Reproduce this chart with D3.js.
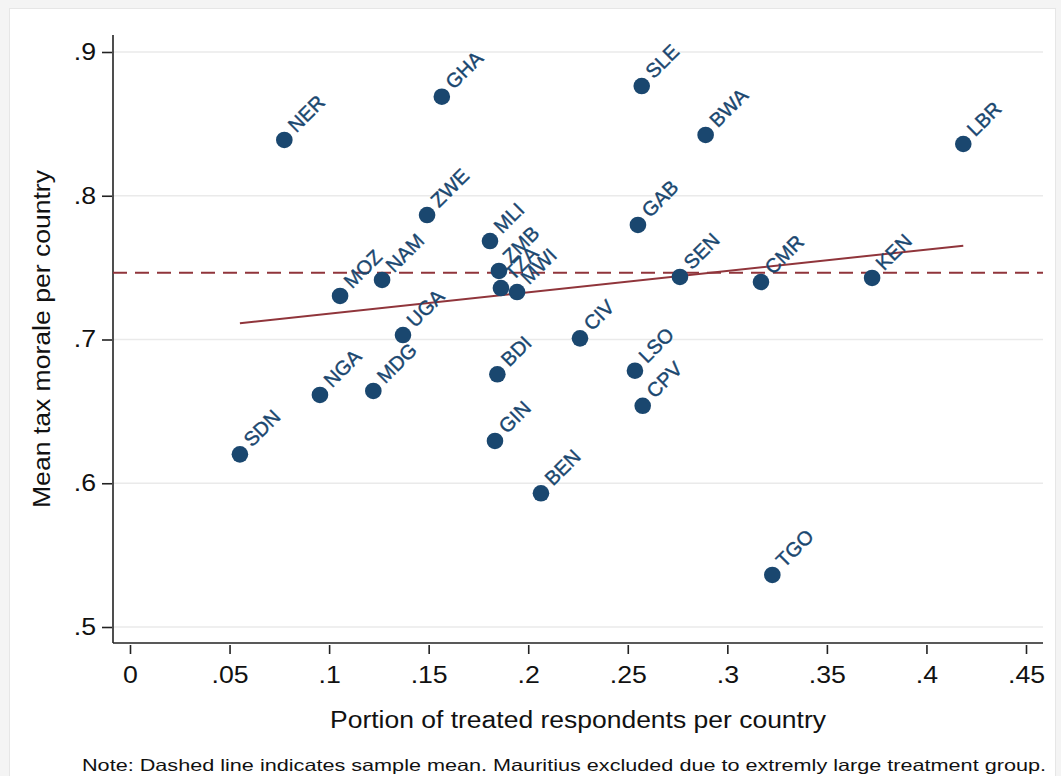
<!DOCTYPE html>
<html>
<head>
<meta charset="utf-8">
<script src="https://d3js.org/d3.v7.min.js"></script>
<style>
  body { margin: 0; background: #f4f4f4; }
  svg { display: block; font-family: "Liberation Sans", Arial, sans-serif; }
</style>
</head>
<body>
<div id="chart"></div>
<script>
// country codes, treated share and mean tax morale
const countries = ['NER', 'GHA', 'SLE', 'BWA', 'LBR', 'ZWE', 'MLI', 'GAB', 'ZMB', 'TZA', 'MWI', 'MOZ', 'NAM',
    'UGA', 'SEN', 'CMR', 'KEN', 'CIV', 'NGA', 'MDG', 'BDI', 'LSO', 'CPV', 'GIN', 'SDN', 'BEN', 'TGO'];
const treatedShare = [0.0775, 0.1566, 0.2570, 0.2891, 0.4185, 0.1492, 0.1808, 0.2551, 0.1853, 0.1863, 0.1944, 0.1055, 0.1266,
    0.1371, 0.2762, 0.3169, 0.3727, 0.2260, 0.0954, 0.1222, 0.1845, 0.2536, 0.2575, 0.1833, 0.0552, 0.2064, 0.3226];
const taxMorale = [0.8388, 0.8689, 0.8763, 0.8423, 0.8360, 0.7866, 0.7685, 0.7797, 0.7477, 0.7358, 0.7330, 0.7303, 0.7414,
    0.7031, 0.7435, 0.7400, 0.7428, 0.7008, 0.6614, 0.6642, 0.6758, 0.6783, 0.6539, 0.6294, 0.6201, 0.5930, 0.5362];

// linear fit end points and sample mean
const fitX = [0.0552, 0.4185];
const fitY = [0.7113, 0.7653];
const sampleMean = 0.7465;

const xTicks = [0, 0.05, 0.1, 0.15, 0.2, 0.25, 0.3, 0.35, 0.4, 0.45];
const xTickLabels = ['0', '.05', '.1', '.15', '.2', '.25', '.3', '.35', '.4', '.45'];
const yTicks = [0.5, 0.6, 0.7, 0.8, 0.9];
const yTickLabels = ['.5', '.6', '.7', '.8', '.9'];

const W = 1061, H = 776;
const navy = '#1a476f', maroon = '#90353b';
const stretch = 1.16; // picture text is wider than tall

const svg = d3.select('#chart').append('svg')
    .attr('width', W)
    .attr('height', H);

// white page
svg.append('rect')
    .attr('x', 9.5).attr('y', 8.5)
    .attr('width', 1046).attr('height', 780)
    .attr('fill', '#fff')
    .attr('stroke', '#e6e6e6');

const x = d3.scaleLinear().domain([0, 0.45]).range([130, 1026]);
const y = d3.scaleLinear().domain([0.5, 0.9]).range([627, 52]);

const plotLeft = 113, plotRight = 1043, plotTop = 35, plotBottom = 643;

// grid lines
svg.append('g')
    .selectAll('line')
    .data(yTicks)
    .enter().append('line')
    .attr('x1', plotLeft).attr('x2', plotRight)
    .attr('y1', d => y(d)).attr('y2', d => y(d))
    .attr('stroke', '#eaeaea')
    .attr('stroke-width', 1.5);

// axes
const xAxis = svg.append('g')
    .attr('transform', `translate(0,${plotBottom + 2})`)
    .call(d3.axisBottom(x).tickValues(xTicks).tickSize(9).tickPadding(13)
        .tickFormat((d, i) => xTickLabels[i]));
const yAxis = svg.append('g')
    .attr('transform', `translate(${plotLeft - 1},0)`)
    .call(d3.axisLeft(y).tickValues(yTicks).tickSize(10).tickPadding(6)
        .tickFormat((d, i) => yTickLabels[i]));

[xAxis, yAxis].forEach(ax => {
    ax.select('.domain').remove();
    ax.selectAll('.tick line').attr('stroke', '#222').attr('stroke-width', 1.6);
    ax.selectAll('.tick text')
        .attr('fill', '#111')
        .style('font-family', '"Liberation Sans", Arial, sans-serif')
        .style('font-size', '23px');
});
xAxis.selectAll('.tick text').attr('transform', `scale(${stretch},1)`);
yAxis.selectAll('.tick text').attr('x', -16 / stretch).attr('transform', `scale(${stretch},1)`);

svg.append('line')
    .attr('x1', plotLeft).attr('x2', plotLeft)
    .attr('y1', plotTop).attr('y2', plotBottom)
    .attr('stroke', '#222').attr('stroke-width', 1.6);
svg.append('line')
    .attr('x1', plotLeft).attr('x2', plotRight)
    .attr('y1', plotBottom).attr('y2', plotBottom)
    .attr('stroke', '#222').attr('stroke-width', 1.6);

// sample mean (dashed) and fit line
svg.append('line')
    .attr('x1', plotLeft).attr('x2', plotRight)
    .attr('y1', y(sampleMean)).attr('y2', y(sampleMean))
    .attr('stroke', maroon)
    .attr('stroke-width', 2)
    .attr('stroke-dasharray', '14,8');

svg.append('line')
    .attr('x1', x(fitX[0])).attr('x2', x(fitX[1]))
    .attr('y1', y(fitY[0])).attr('y2', y(fitY[1]))
    .attr('stroke', maroon)
    .attr('stroke-width', 2);

// points with labels
const pts = countries.map((c, i) => ({ code: c, share: treatedShare[i], morale: taxMorale[i] }));

svg.append('g')
    .selectAll('circle')
    .data(pts)
    .enter().append('circle')
    .attr('cx', d => x(d.share))
    .attr('cy', d => y(d.morale))
    .attr('r', 8.3)
    .attr('fill', navy);

svg.append('g')
    .selectAll('text')
    .data(pts)
    .enter().append('text')
    .attr('transform', d => `translate(${x(d.share) + 12},${y(d.morale) - 6.5}) rotate(-45)`)
    .attr('fill', navy)
    .attr('stroke', navy)
    .attr('stroke-width', 0.4)
    .style('font-size', '20px')
    .text(d => d.code);

// titles
svg.append('text')
    .attr('transform', `translate(${(plotLeft + plotRight) / 2},728)`)
    .attr('text-anchor', 'middle')
    .attr('textLength', 496)
    .attr('lengthAdjust', 'spacingAndGlyphs')
    .attr('fill', '#111')
    .style('font-size', '23px')
    .text('Portion of treated respondents per country');

svg.append('text')
    .attr('transform', 'translate(50,339) rotate(-90)')
    .attr('text-anchor', 'middle')
    .attr('textLength', 338)
    .attr('lengthAdjust', 'spacingAndGlyphs')
    .attr('fill', '#111')
    .style('font-size', '23px')
    .text('Mean tax morale per country');

svg.append('text')
    .attr('x', 82).attr('y', 771)
    .attr('textLength', 964)
    .attr('lengthAdjust', 'spacingAndGlyphs')
    .attr('fill', '#111')
    .style('font-size', '16.5px')
    .text('Note: Dashed line indicates sample mean. Mauritius excluded due to extremly large treatment group.');
</script>
</body>
</html>
